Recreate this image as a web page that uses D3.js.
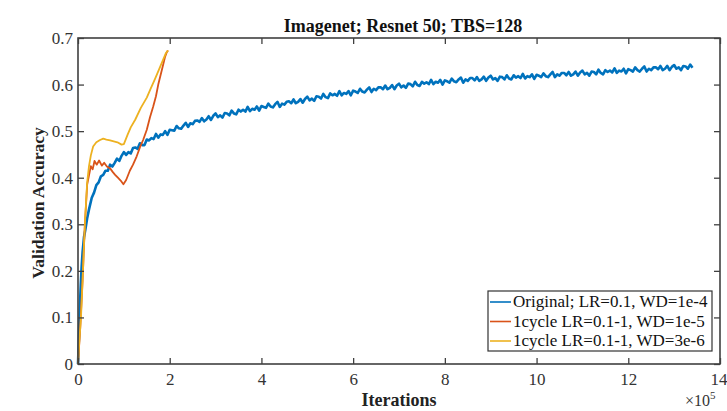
<!DOCTYPE html>
<html><head><meta charset="utf-8">
<script src="https://cdn.jsdelivr.net/npm/d3@7"></script>
<style>body{margin:0;background:#fff}svg{display:block}</style>
</head><body><svg id="c" width="727" height="411"></svg>
<script>
// ---- data (iterations in units of 1e5) ----
const xTicks = [0,2,4,6,8,10,12,14];
const yTicks = [0,0.1,0.2,0.3,0.4,0.5,0.6,0.7];
const seriesNames = ["Original; LR=0.1, WD=1e-4","1cycle LR=0.1-1, WD=1e-5","1cycle LR=0.1-1, WD=3e-6"];
const seriesColors = ["#0072BD","#D95319","#EDB120"];

const blueIter = [0,0.02,0.04,0.06,0.08,0.1,0.13,0.16,0.2,0.24,0.3,0.35,0.4,0.45,0.5,0.55,
0.6,0.65,0.7,0.75,0.8,0.85,0.9,0.95,1.0,1.05,1.1,1.15,1.2,1.25,1.3,1.35,1.4,1.45,1.5,1.55,1.6,1.65,1.7,1.75,1.8,1.85,1.9,1.95,
2.0,2.05,2.1,2.15,2.2,2.25,2.3,2.35,2.4,2.45,2.5,2.55,2.6,2.65,2.7,2.75,2.8,2.85,2.9,2.95,
3.0,3.05,3.1,3.15,3.2,3.25,3.3,3.35,3.4,3.45,3.5,3.55,3.6,3.65,3.7,3.75,3.8,3.85,3.9,3.95,
4.0,4.05,4.1,4.15,4.2,4.25,4.3,4.35,4.4,4.45,4.5,4.55,4.6,4.65,4.7,4.75,4.8,4.85,4.9,4.95,
5.0,5.05,5.1,5.15,5.2,5.25,5.3,5.35,5.4,5.45,5.5,5.55,5.6,5.65,5.7,5.75,5.8,5.85,5.9,5.95,
6.0,6.05,6.1,6.15,6.2,6.25,6.3,6.35,6.4,6.45,6.5,6.55,6.6,6.65,6.7,6.75,6.8,6.85,6.9,6.95,
7.0,7.05,7.1,7.15,7.2,7.25,7.3,7.35,7.4,7.45,7.5,7.55,7.6,7.65,7.7,7.75,7.8,7.85,7.9,7.95,
8.0,8.05,8.1,8.15,8.2,8.25,8.3,8.35,8.4,8.45,8.5,8.55,8.6,8.65,8.7,8.75,8.8,8.85,8.9,8.95,
9.0,9.05,9.1,9.15,9.2,9.25,9.3,9.35,9.4,9.45,9.5,9.55,9.6,9.65,9.7,9.75,9.8,9.85,9.9,9.95,
10.0,10.05,10.1,10.15,10.2,10.25,10.3,10.35,10.4,10.45,10.5,10.55,10.6,10.65,10.7,10.75,10.8,10.85,10.9,10.95,
11.0,11.05,11.1,11.15,11.2,11.25,11.3,11.35,11.4,11.45,11.5,11.55,11.6,11.65,11.7,11.75,11.8,11.85,11.9,11.95,
12.0,12.05,12.1,12.15,12.2,12.25,12.3,12.35,12.4,12.45,12.5,12.55,12.6,12.65,12.7,12.75,12.8,12.85,12.9,12.95,
13.0,13.05,13.1,13.15,13.2,13.25,13.3,13.35,13.4];
const blueAcc = [0,0.06,0.12,0.17,0.21,0.24,0.272,0.288,0.313,0.332,0.357,0.368,0.384,0.39,0.403,0.406,
0.415,0.415,0.428,0.424,0.432,0.441,0.436,0.447,0.455,0.449,0.455,0.452,0.464,0.465,0.462,0.474,0.470,0.470,0.482,0.480,0.485,0.483,0.494,0.486,0.493,0.492,0.500,0.492,
0.503,0.502,0.501,0.511,0.506,0.505,0.512,0.518,0.509,0.517,0.515,0.522,0.523,0.520,0.528,0.521,0.525,0.532,0.524,0.533,
0.538,0.530,0.534,0.529,0.539,0.538,0.534,0.544,0.538,0.536,0.546,0.542,0.546,0.542,0.552,0.543,0.548,0.546,0.553,0.544,
0.554,0.552,0.550,0.559,0.553,0.551,0.558,0.563,0.552,0.559,0.557,0.563,0.564,0.560,0.568,0.560,0.563,0.569,0.561,0.569,
0.574,0.566,0.570,0.565,0.575,0.574,0.570,0.580,0.573,0.571,0.581,0.577,0.580,0.576,0.586,0.577,0.582,0.580,0.586,0.577,
0.587,0.585,0.582,0.591,0.585,0.583,0.589,0.594,0.584,0.591,0.588,0.594,0.594,0.590,0.598,0.590,0.593,0.599,0.590,0.598,
0.602,0.594,0.598,0.593,0.602,0.601,0.596,0.606,0.599,0.597,0.606,0.602,0.605,0.601,0.610,0.601,0.606,0.604,0.610,0.600,
0.609,0.607,0.604,0.613,0.607,0.605,0.611,0.615,0.604,0.611,0.608,0.614,0.614,0.609,0.616,0.608,0.611,0.617,0.608,0.615,
0.619,0.611,0.614,0.608,0.617,0.616,0.611,0.620,0.613,0.611,0.620,0.615,0.618,0.614,0.623,0.613,0.618,0.616,0.622,0.612,
0.621,0.619,0.616,0.624,0.618,0.616,0.622,0.627,0.616,0.622,0.619,0.625,0.625,0.620,0.627,0.619,0.622,0.628,0.619,0.626,
0.630,0.622,0.625,0.619,0.628,0.627,0.622,0.632,0.625,0.622,0.631,0.627,0.630,0.626,0.635,0.625,0.630,0.628,0.634,0.624,
0.633,0.631,0.628,0.637,0.631,0.628,0.634,0.639,0.628,0.634,0.631,0.637,0.637,0.633,0.640,0.631,0.634,0.640,0.631,0.638,
0.642,0.634,0.637,0.631,0.640,0.639,0.634,0.643,0.636];

const orangeIter = [0,0.05,0.1,0.15,0.2,0.24,0.28,0.32,0.36,0.41,0.46,0.52,0.57,0.63,0.7,0.76,0.81,0.87,0.93,0.99,
1.05,1.13,1.2,1.28,1.35,1.42,1.5,1.57,1.64,1.7,1.75,1.8,1.85,1.9,1.93,1.95,1.97];
const orangeAcc = [0,0.08,0.18,0.3,0.385,0.405,0.425,0.418,0.436,0.428,0.437,0.426,0.432,0.424,0.420,0.412,0.406,0.400,0.394,0.386,
0.395,0.415,0.428,0.446,0.465,0.481,0.503,0.530,0.553,0.575,0.600,0.620,0.640,0.660,0.668,0.672,0.672];

const yellowIter = [0,0.03,0.065,0.1,0.15,0.2,0.24,0.28,0.33,0.4,0.48,0.55,0.62,0.7,0.78,0.86,0.95,1.0,
1.08,1.15,1.25,1.37,1.5,1.58,1.68,1.77,1.85,1.91,1.95,1.97];
const yellowAcc = [0,0.05,0.1,0.18,0.3,0.39,0.425,0.448,0.467,0.476,0.481,0.484,0.482,0.480,0.478,0.476,0.471,0.472,
0.492,0.508,0.525,0.550,0.572,0.590,0.612,0.633,0.652,0.666,0.672,0.672];

// ---- layout ----
const svg = d3.select("#c");
const L = 78, R = 720, T = 38, B = 364;
const x = d3.scaleLinear().domain([0,14]).range([L,R]);
const y = d3.scaleLinear().domain([0,0.7]).range([B,T]);
const axisColor = "#404040";
const font = "'Liberation Serif','Times New Roman',serif";

const line = d3.line().x(d=>x(d[0])).y(d=>y(d[1]));
const zip = (a,b)=>a.map((v,i)=>[v,b[i]]);
const series = [zip(blueIter,blueAcc), zip(orangeIter,orangeAcc), zip(yellowIter,yellowAcc)];
const widths = [2.6,1.8,1.8];

series.forEach((s,i)=>{
  svg.append("path").attr("d",line(s)).attr("fill","none")
    .attr("stroke",seriesColors[i]).attr("stroke-width",widths[i]).attr("stroke-linejoin","round");
});

// axes
function styleAxis(g){
  g.select(".domain").remove();
  g.selectAll(".tick line").attr("stroke",axisColor).attr("stroke-width",1.3);
  g.selectAll(".tick text").attr("fill","#333").style("font-family",font).style("font-size","17px");
}
const xb = svg.append("g").attr("transform",`translate(0,${B})`)
  .call(d3.axisBottom(x).tickValues(xTicks).tickSize(-6).tickPadding(9).tickFormat(d3.format("d")));
styleAxis(xb);
xb.selectAll(".tick text").filter(d=>d===14).attr("text-anchor","end").attr("x",7);
const xt = svg.append("g").attr("transform",`translate(0,${T})`)
  .call(d3.axisTop(x).tickValues(xTicks).tickSize(-6).tickFormat(""));
styleAxis(xt);
const yl = svg.append("g").attr("transform",`translate(${L},0)`)
  .call(d3.axisLeft(y).tickValues(yTicks).tickSize(-6).tickPadding(5).tickFormat(d=>d===0?"0":d3.format(".1f")(d)));
styleAxis(yl);
const yr = svg.append("g").attr("transform",`translate(${R},0)`)
  .call(d3.axisRight(y).tickValues(yTicks).tickSize(-6).tickFormat(""));
styleAxis(yr);

svg.append("rect").attr("x",L).attr("y",T).attr("width",R-L).attr("height",B-T)
  .attr("fill","none").attr("stroke",axisColor).attr("stroke-width",1.6);

// title and labels
svg.append("text").attr("x",(L+R)/2+4).attr("y",32).attr("text-anchor","middle")
  .style("font-family",font).style("font-weight","bold").style("font-size","18px").attr("fill","#111")
  .text("Imagenet; Resnet 50; TBS=128");
svg.append("text").attr("x",(L+R)/2).attr("y",406).attr("text-anchor","middle")
  .style("font-family",font).style("font-weight","bold").style("font-size","18px").attr("fill","#222")
  .text("Iterations");
svg.append("text").attr("transform",`translate(44,${(T+B)/2+2}) rotate(-90)`).attr("text-anchor","middle")
  .style("font-family",font).style("font-weight","bold").style("font-size","17.5px").attr("fill","#222")
  .text("Validation Accuracy");
const ex = svg.append("text").attr("x",685).attr("y",406)
  .style("font-family",font).style("font-size","16px").attr("fill","#333");
ex.append("tspan").text("\u00d710");
ex.append("tspan").attr("dy",-7).style("font-size","11px").text("5");

// legend
const lg = svg.append("g");
lg.append("rect").attr("x",488).attr("y",291).attr("width",224).attr("height",60)
  .attr("fill","#fff").attr("stroke","#333").attr("stroke-width",1.2);
seriesNames.forEach((n,i)=>{
  const yy = 302 + i*19.5;
  lg.append("line").attr("x1",490).attr("x2",511).attr("y1",yy).attr("y2",yy)
    .attr("stroke",seriesColors[i]).attr("stroke-width",1.6);
  lg.append("text").attr("x",513).attr("y",yy+5).style("font-family",font).style("font-size","17px")
    .attr("fill","#111").text(n);
});
</script></body></html>
